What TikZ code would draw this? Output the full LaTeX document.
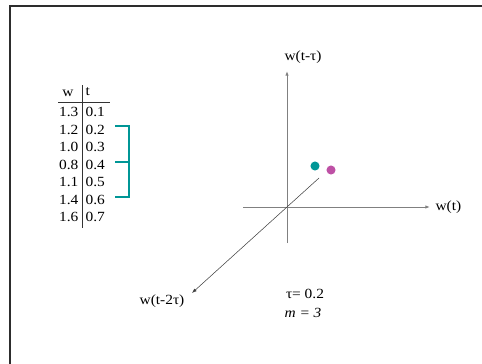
\documentclass[tikz,border=0pt]{standalone}
\usepackage{fontspec}
\setmainfont{Liberation Serif}[FakeStretch=1.1]
\usepackage{tikz}
\usetikzlibrary{positioning,arrows.meta}
\usepackage{xcolor}
\definecolor{dotteal}{RGB}{0,150,150}
\definecolor{dotpink}{RGB}{190,80,165}
\definecolor{framegray}{RGB}{45,45,45}
\tikzset{
  lbl/.style={font=\fontsize{10.5}{12}\selectfont, inner sep=1pt},
  rule/.style={black!80, line width=0.6pt},
  axis/.style={black!50, line width=0.75pt, -{Latex[length=3.5pt,width=2.6pt]}},
  diag/.style={black!75, line width=0.4pt, -{Latex[length=3.5pt,width=2.6pt]}},
  bracket/.style={dotteal, line width=1.1pt},
  dot/.style={circle, inner sep=0pt, minimum size=6.8pt}
}

\begin{document}
\begin{tikzpicture}[x=0.75pt,y=-0.75pt]
\useasboundingbox (0,0) rectangle (482,364);
% Frame
\draw[framegray, line width=1.5pt] (10,364) -- (10,5.5) -- (482,5.5);
% Table of samples
\node[lbl] (wh) at (68,93) {w};
\node[lbl, anchor=west] (th) at (84,92) {t};
\foreach \w/\t [count=\i] in {1.3/0.1,1.2/0.2,1.0/0.3,0.8/0.4,1.1/0.5,1.4/0.6,1.6/0.7}{
  \node[lbl, anchor=east] (w\i) at (80,{94.5+17.5*\i}) {\w};
  \node[lbl, anchor=west] (t\i) at (84,{94.5+17.5*\i}) {\t};
}
\coordinate (vtop) at (82,85);
\coordinate (vbot) at (82,228);
\coordinate (hl) at (58,102);
\coordinate (hr) at (110,102);
\draw[rule] (vtop) -- (vbot);
\draw[rule] (hl) -- (hr);
% Bracket over t = 0.2, 0.4, 0.6
\coordinate (b1) at (115,126);
\coordinate (b2) at (115,162);
\coordinate (b3) at (115,197);
\coordinate (bx) at (129,0);
\draw[bracket] (b1) -- (b1 -| bx) -- (b3 -| bx) -- (b3);
\draw[bracket] (b2) -- (b2 -| bx);
% Axes
\coordinate (xl) at (243,207);
\coordinate (xr) at (430,207);
\coordinate (yb) at (287,243);
\coordinate (yt) at (287,71);
\coordinate (zs) at (319,178);
\coordinate (ze) at (192,293);
\draw[axis] (xl) -- (xr);
\draw[axis] (yb) -- (yt);
\draw[diag] (zs) -- (ze);
\node[lbl, right=3pt of xr] (xlab) {w(t)};
\node[lbl] (ylab) at (303,57) {w(t-τ)};
\node[lbl] (zlab) at (162,301) {w(t-2τ)};
% Embedded points
\node[dot, fill=dotteal] (p1) at (315,166) {};
\node[dot, fill=dotpink] (p2) at (331,170) {};
% Parameters
\node[lbl] (tau) at (305,294) {τ= 0.2};
\node[lbl] (mval) at (303,313) {\itshape m = 3};
\end{tikzpicture}
\end{document}
